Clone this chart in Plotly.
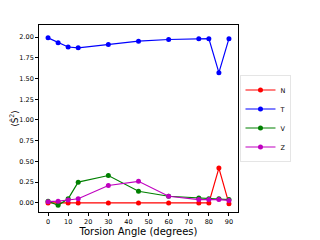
import plotly.graph_objects as go

angles = [0, 5, 10, 15, 30, 45, 60, 75, 80, 85, 90]
N = [0.0, 0.0, 0.0, 0.0, 0.0, 0.0, 0.0, 0.0, 0.0, 0.42, -0.01]
T = [1.99, 1.93, 1.88, 1.87, 1.91, 1.95, 1.97, 1.98, 1.98, 1.57, 1.98]
V = [0.02, -0.03, 0.05, 0.25, 0.33, 0.14, 0.08, 0.06, 0.05, 0.05, 0.04]
Z = [0.015, 0.02, 0.035, 0.05, 0.21, 0.26, 0.08, 0.04, 0.04, 0.04, 0.03]
series = [("N", N, "red"), ("T", T, "blue"), ("V", V, "green"), ("Z", Z, "#bf00bf")]
x_ticks = list(range(0, 91, 10))
y_ticks = [0.0, 0.25, 0.5, 0.75, 1.0, 1.25, 1.5, 1.75, 2.0]

fig = go.Figure()
for name, vals, col in series:
    fig.add_trace(go.Scatter(x=angles, y=vals, name=name, mode="lines+markers",
                             line=dict(color=col, width=1.2),
                             marker=dict(color=col, size=5)))

font = "DejaVu Sans"
fig.update_layout(
    width=312, height=232,
    margin=dict(l=31, r=82, t=17, b=28, autoexpand=False),
    paper_bgcolor="white", plot_bgcolor="white",
    font=dict(family=font, size=6.5, color="black"),
    showlegend=True,
    legend=dict(x=1.01, y=0.5, xanchor="left", yanchor="middle",
                bordercolor="#cccccc", borderwidth=0.5,
                font=dict(size=6.5), itemwidth=30, tracegroupgap=0),
    xaxis=dict(range=[-4.5, 94.5], tickvals=x_ticks, showgrid=False, zeroline=False,
               automargin=False,
               showline=True, linecolor="black", linewidth=0.8, mirror=True,
               ticks="outside", ticklen=3, tickcolor="black",
               title=dict(text="Torsion Angle (degrees)", font=dict(size=10), standoff=1)),
    yaxis=dict(range=[-0.11, 2.145], tickvals=y_ticks, tickformat=".2f", showgrid=False,
               automargin=False,
               zeroline=False, showline=True, linecolor="black", linewidth=0.8, mirror=True,
               ticks="outside", ticklen=3, tickcolor="black",
               title=dict(text="⟨Ŝ<sup>2</sup>⟩", font=dict(size=9), standoff=2)),
)
fig.write_html("out.html")
